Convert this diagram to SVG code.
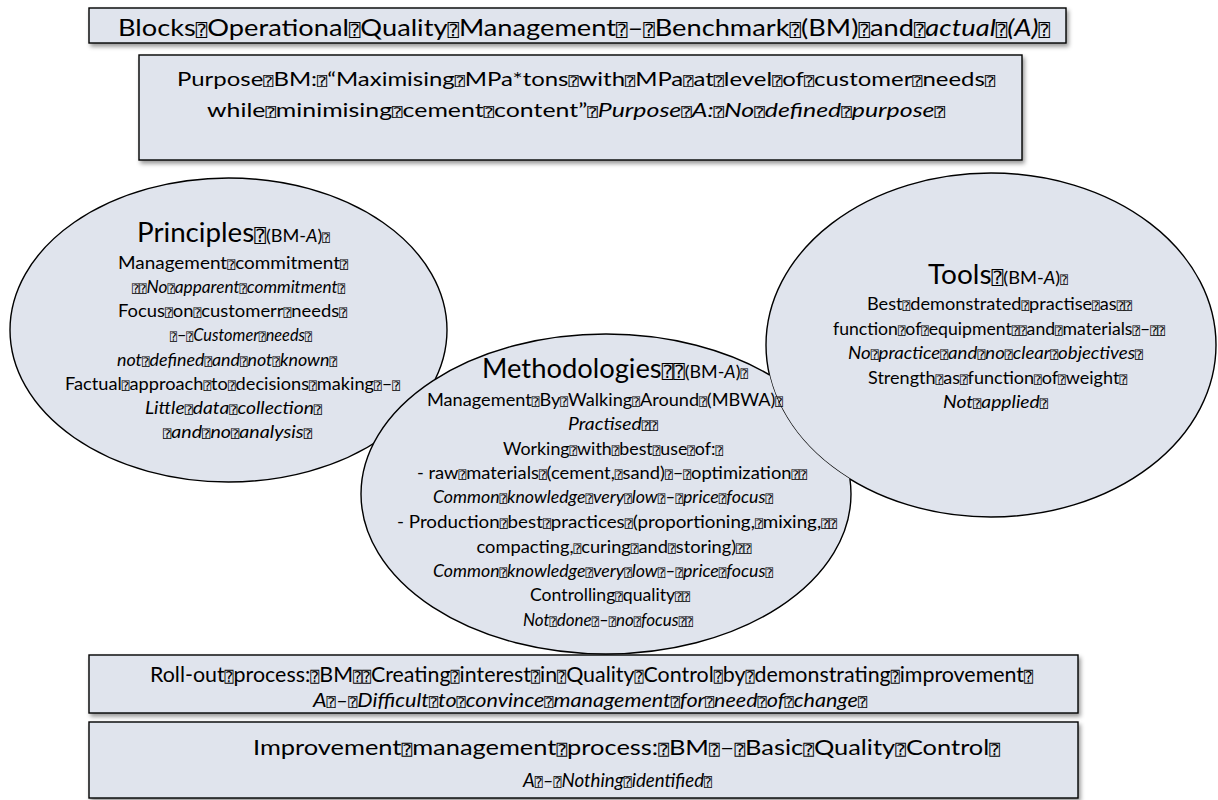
<svg xmlns="http://www.w3.org/2000/svg" width="1218" height="800" viewBox="0 0 1218 800">
<defs>
<style>
text{font-family:Lato,"Open Sans","Liberation Sans",sans-serif;fill:#000;text-anchor:middle}
.q{font-family:"DejaVu Sans Mono","DejaVu Sans",monospace;font-size:70%;font-style:normal}
.i{font-style:italic}
.box{fill:#e0e4ed;stroke:#000;stroke-width:1.4;filter:url(#sh)}
.ell{fill:#e0e4ed;stroke:#000;stroke-width:1.4}
.b{font-size:16.5px}
.t{font-size:26px}
.s{font-size:17px}
</style>
<filter id="sh" x="-5%" y="-20%" width="110%" height="150%">
<feDropShadow dx="2" dy="3" stdDeviation="2" flood-color="#000" flood-opacity="0.4"/>
</filter>
<clipPath id="outTools">
<path clip-rule="evenodd" d="M0,0H1218V800H0Z M766,345a225,172 0 1,0 450,0a225,172 0 1,0 -450,0Z"/>
</clipPath>
</defs>
<g id="connectors"/>
<g id="title">
<rect class="box" x="89" y="8" width="977" height="35"/>
<text x="584" y="36" font-size="24" textLength="932" lengthAdjust="spacingAndGlyphs">Blocks<tspan class="q">⍰</tspan>Operational<tspan class="q">⍰</tspan>Quality<tspan class="q">⍰</tspan>Management<tspan class="q">⍰</tspan>–<tspan class="q">⍰</tspan>Benchmark<tspan class="q">⍰</tspan>(BM)<tspan class="q">⍰</tspan>and<tspan class="q">⍰</tspan><tspan class="i">actual<tspan class="q">⍰</tspan>(A)</tspan><tspan class="q">⍰</tspan></text>
</g>
<g id="purpose">
<rect class="box" x="139" y="55" width="883" height="105"/>
<text x="586" y="86" font-size="19" textLength="818" lengthAdjust="spacingAndGlyphs">Purpose<tspan class="q">⍰</tspan>BM:<tspan class="q">⍰</tspan>“Maximising<tspan class="q">⍰</tspan>MPa*tons<tspan class="q">⍰</tspan>with<tspan class="q">⍰</tspan>MPa<tspan class="q">⍰</tspan>at<tspan class="q">⍰</tspan>level<tspan class="q">⍰</tspan>of<tspan class="q">⍰</tspan>customer<tspan class="q">⍰</tspan>needs<tspan class="q">⍰</tspan></text>
<text x="576" y="117" font-size="19" textLength="738" lengthAdjust="spacingAndGlyphs">while<tspan class="q">⍰</tspan>minimising<tspan class="q">⍰</tspan>cement<tspan class="q">⍰</tspan>content”<tspan class="q">⍰</tspan><tspan class="i">Purpose<tspan class="q">⍰</tspan>A:<tspan class="q">⍰</tspan>No<tspan class="q">⍰</tspan>defined<tspan class="q">⍰</tspan>purpose<tspan class="q">⍰</tspan></tspan></text>
</g>
<g id="principles">
<ellipse class="ell" cx="228.5" cy="330" rx="218.5" ry="152"/>
<text x="233.5" y="242" textLength="193" lengthAdjust="spacingAndGlyphs"><tspan class="t">Principles<tspan class="q">⍰</tspan></tspan><tspan class="s">(BM-<tspan class="i">A</tspan>)<tspan class="q">⍰</tspan></tspan></text>
<text class="b" x="233" y="269" textLength="230" lengthAdjust="spacingAndGlyphs">Management<tspan class="q">⍰</tspan>commitment<tspan class="q">⍰</tspan></text>
<text class="b" x="238.5" y="293" textLength="213" lengthAdjust="spacingAndGlyphs"><tspan class="q">⍰⍰</tspan><tspan class="i">No<tspan class="q">⍰</tspan>apparent<tspan class="q">⍰</tspan>commitment<tspan class="q">⍰</tspan></tspan></text>
<text class="b" x="232.5" y="317" textLength="229" lengthAdjust="spacingAndGlyphs">Focus<tspan class="q">⍰</tspan>on<tspan class="q">⍰</tspan>customerr<tspan class="q">⍰</tspan>needs<tspan class="q">⍰</tspan></text>
<text class="b" x="241" y="341" textLength="142" lengthAdjust="spacingAndGlyphs"><tspan class="q">⍰</tspan>–<tspan class="q">⍰</tspan><tspan class="i">Customer<tspan class="q">⍰</tspan>needs<tspan class="q">⍰</tspan></tspan></text>
<text class="b i" x="227" y="366" textLength="220" lengthAdjust="spacingAndGlyphs">not<tspan class="q">⍰</tspan>defined<tspan class="q">⍰</tspan>and<tspan class="q">⍰</tspan>not<tspan class="q">⍰</tspan>known<tspan class="q">⍰</tspan></text>
<text class="b" x="232.5" y="390" textLength="335" lengthAdjust="spacingAndGlyphs">Factual<tspan class="q">⍰</tspan>approach<tspan class="q">⍰</tspan>to<tspan class="q">⍰</tspan>decisions<tspan class="q">⍰</tspan>making<tspan class="q">⍰</tspan>–<tspan class="q">⍰</tspan></text>
<text class="b i" x="233.5" y="414" textLength="177" lengthAdjust="spacingAndGlyphs">Little<tspan class="q">⍰</tspan>data<tspan class="q">⍰</tspan>collection<tspan class="q">⍰</tspan></text>
<text class="b i" x="237.5" y="438" textLength="149" lengthAdjust="spacingAndGlyphs"><tspan class="q">⍰</tspan>and<tspan class="q">⍰</tspan>no<tspan class="q">⍰</tspan>analysis<tspan class="q">⍰</tspan></text>
</g>
<g id="tools">
<ellipse class="ell" cx="991" cy="345" rx="225" ry="172"/>
<text x="998" y="284" textLength="140" lengthAdjust="spacingAndGlyphs"><tspan class="t">Tools<tspan class="q">⍰</tspan></tspan><tspan class="s">(BM-<tspan class="i">A</tspan>)<tspan class="q">⍰</tspan></tspan></text>
<text class="b" x="999.5" y="310" textLength="265" lengthAdjust="spacingAndGlyphs">Best<tspan class="q">⍰</tspan>demonstrated<tspan class="q">⍰</tspan>practise<tspan class="q">⍰</tspan>as<tspan class="q">⍰⍰</tspan></text>
<text class="b" x="999" y="335" textLength="332" lengthAdjust="spacingAndGlyphs">function<tspan class="q">⍰</tspan>of<tspan class="q">⍰</tspan>equipment<tspan class="q">⍰⍰</tspan>and<tspan class="q">⍰</tspan>materials<tspan class="q">⍰</tspan>–<tspan class="q">⍰⍰</tspan></text>
<text class="b i" x="995.5" y="359" textLength="295" lengthAdjust="spacingAndGlyphs">No<tspan class="q">⍰</tspan>practice<tspan class="q">⍰</tspan>and<tspan class="q">⍰</tspan>no<tspan class="q">⍰</tspan>clear<tspan class="q">⍰</tspan>objectives<tspan class="q">⍰</tspan></text>
<text class="b" x="997.5" y="384" textLength="259" lengthAdjust="spacingAndGlyphs">Strength<tspan class="q">⍰</tspan>as<tspan class="q">⍰</tspan>function<tspan class="q">⍰</tspan>of<tspan class="q">⍰</tspan>weight<tspan class="q">⍰</tspan></text>
<text class="b i" x="995.5" y="408" textLength="105" lengthAdjust="spacingAndGlyphs">Not<tspan class="q">⍰</tspan>applied<tspan class="q">⍰</tspan></text>
</g>
<g id="methodologies">
<ellipse class="ell" cx="606" cy="494" rx="245" ry="160" clip-path="url(#outTools)"/>
<text x="615" y="378" textLength="266" lengthAdjust="spacingAndGlyphs"><tspan class="t">Methodologies<tspan class="q">⍰⍰</tspan></tspan><tspan class="s">(BM-<tspan class="i">A</tspan>)<tspan class="q">⍰</tspan></tspan></text>
<text class="b" x="605" y="406" textLength="356" lengthAdjust="spacingAndGlyphs">Management<tspan class="q">⍰</tspan>By<tspan class="q">⍰</tspan>Walking<tspan class="q">⍰</tspan>Around<tspan class="q">⍰</tspan>(MBWA)<tspan class="q">⍰</tspan></text>
<text class="b i" x="613" y="430" textLength="90" lengthAdjust="spacingAndGlyphs">Practised<tspan class="q">⍰⍰</tspan></text>
<text class="b" x="613" y="455" textLength="220" lengthAdjust="spacingAndGlyphs">Working<tspan class="q">⍰</tspan>with<tspan class="q">⍰</tspan>best<tspan class="q">⍰</tspan>use<tspan class="q">⍰</tspan>of:<tspan class="q">⍰</tspan></text>
<text class="b" x="612" y="479" textLength="390" lengthAdjust="spacingAndGlyphs">-     raw<tspan class="q">⍰</tspan>materials<tspan class="q">⍰</tspan>(cement,<tspan class="q">⍰</tspan>sand)<tspan class="q">⍰</tspan>–<tspan class="q">⍰</tspan>optimization<tspan class="q">⍰⍰</tspan></text>
<text class="b i" x="603" y="503" textLength="340" lengthAdjust="spacingAndGlyphs">Common<tspan class="q">⍰</tspan>knowledge<tspan class="q">⍰</tspan>very<tspan class="q">⍰</tspan>low<tspan class="q">⍰</tspan>–<tspan class="q">⍰</tspan>price<tspan class="q">⍰</tspan>focus<tspan class="q">⍰</tspan></text>
<text class="b" x="617" y="528" textLength="440" lengthAdjust="spacingAndGlyphs">-     Production<tspan class="q">⍰</tspan>best<tspan class="q">⍰</tspan>practices<tspan class="q">⍰</tspan>(proportioning,<tspan class="q">⍰</tspan>mixing,<tspan class="q">⍰⍰</tspan></text>
<text class="b" x="614" y="553" textLength="275" lengthAdjust="spacingAndGlyphs">compacting,<tspan class="q">⍰</tspan>curing<tspan class="q">⍰</tspan>and<tspan class="q">⍰</tspan>storing)<tspan class="q">⍰⍰</tspan></text>
<text class="b i" x="603" y="577" textLength="340" lengthAdjust="spacingAndGlyphs">Common<tspan class="q">⍰</tspan>knowledge<tspan class="q">⍰</tspan>very<tspan class="q">⍰</tspan>low<tspan class="q">⍰</tspan>–<tspan class="q">⍰</tspan>price<tspan class="q">⍰</tspan>focus<tspan class="q">⍰</tspan></text>
<text class="b" x="610" y="601" textLength="160" lengthAdjust="spacingAndGlyphs">Controlling<tspan class="q">⍰</tspan>quality<tspan class="q">⍰⍰</tspan></text>
<text class="b i" x="608" y="626" textLength="170" lengthAdjust="spacingAndGlyphs">Not<tspan class="q">⍰</tspan>done<tspan class="q">⍰</tspan>–<tspan class="q">⍰</tspan>no<tspan class="q">⍰</tspan>focus<tspan class="q">⍰⍰</tspan></text>
</g>
<g id="rollout">
<rect class="box" x="89" y="655" width="989" height="58"/>
<text x="591.5" y="682" font-size="21" textLength="883" lengthAdjust="spacingAndGlyphs">Roll-out<tspan class="q">⍰</tspan>process:<tspan class="q">⍰</tspan>BM<tspan class="q">⍰⍰</tspan>Creating<tspan class="q">⍰</tspan>interest<tspan class="q">⍰</tspan>in<tspan class="q">⍰</tspan>Quality<tspan class="q">⍰</tspan>Control<tspan class="q">⍰</tspan>by<tspan class="q">⍰</tspan>demonstrating<tspan class="q">⍰</tspan>improvement<tspan class="q">⍰</tspan></text>
<text class="i" x="590" y="707" font-size="19" textLength="554" lengthAdjust="spacingAndGlyphs">A<tspan class="q">⍰</tspan>–<tspan class="q">⍰</tspan>Difficult<tspan class="q">⍰</tspan>to<tspan class="q">⍰</tspan>convince<tspan class="q">⍰</tspan>management<tspan class="q">⍰</tspan>for<tspan class="q">⍰</tspan>need<tspan class="q">⍰</tspan>of<tspan class="q">⍰</tspan>change<tspan class="q">⍰</tspan></text>
</g>
<g id="improvement">
<rect class="box" x="89" y="722" width="989" height="76"/>
<text x="626.5" y="755" font-size="21" textLength="747" lengthAdjust="spacingAndGlyphs">Improvement<tspan class="q">⍰</tspan>management<tspan class="q">⍰</tspan>process:<tspan class="q">⍰</tspan>BM<tspan class="q">⍰</tspan>–<tspan class="q">⍰</tspan>Basic<tspan class="q">⍰</tspan>Quality<tspan class="q">⍰</tspan>Control<tspan class="q">⍰</tspan></text>
<text class="i" x="617.5" y="787" font-size="19" textLength="189" lengthAdjust="spacingAndGlyphs">A<tspan class="q">⍰</tspan>–<tspan class="q">⍰</tspan>Nothing<tspan class="q">⍰</tspan>identified<tspan class="q">⍰</tspan></text>
</g>
</svg>
